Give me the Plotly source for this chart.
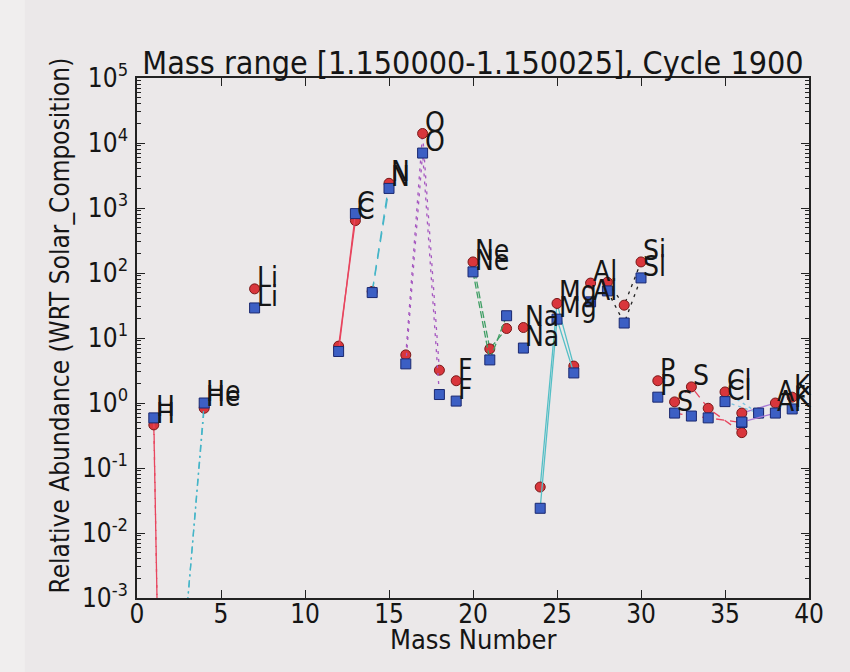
import math
import plotly.graph_objects as go

# ---------------- data ----------------
mass = [1, 2, 3, 4, 7, 12, 13, 14, 15, 16, 17, 18, 19, 20, 21, 22, 23,
        24, 25, 26, 27, 28, 29, 30, 31, 32, 33, 34, 36, 35, 37, 36, 38, 39]
element = ['H', 'H', 'He', 'He', 'Li', 'C', 'C', 'N', 'N', 'O', 'O', 'O', 'F',
           'Ne', 'Ne', 'Ne', 'Na', 'Mg', 'Mg', 'Mg', 'Al', 'Si', 'Si', 'Si', 'P',
           'S', 'S', 'S', 'S', 'Cl', 'Cl', 'Ar', 'Ar', 'K']
# series 1 (red circles)
abund_red = [0.46, 4.6e-15, 8e-4, 0.83, 57, 7.5, 640, 52, 2400, 5.5, 14000, 3.2, 2.2,
             148, 6.8, 14, 14.5, 0.051, 34, 3.7, 70, 72, 32, 148, 2.2,
             1.04, 1.77, 0.83, 0.35, 1.48, 0.70, 0.70, 1.0, 1.23]
# series 2 (blue squares)
abund_blue = [0.59, 1.6e-15, 8e-4, 1.0, 29, 6.2, 820, 50, 2000, 4.0, 7000, 1.35, 1.07,
              104, 4.6, 22, 7.0, 0.024, 19.5, 2.9, 36, 53, 17, 84, 1.23,
              0.70, 0.63, 0.59, 0.50, 1.05, 0.70, 0.51, 0.70, 0.81]

y_tick_vals = [1e-3, 1e-2, 1e-1, 1e0, 1e1, 1e2, 1e3, 1e4, 1e5]
y_tick_text = ['10<sup>-3</sup>', '10<sup>-2</sup>', '10<sup>-1</sup>', '10<sup>0</sup>',
               '10<sup>1</sup>', '10<sup>2</sup>', '10<sup>3</sup>', '10<sup>4</sup>',
               '10<sup>5</sup>']

title_text = "Mass range [1.150000-1.150025], Cycle 1900"
x_title = "Mass Number"
y_title = "Relative Abundance (WRT Solar_Composition)"

# ---------------- styles ----------------
elem_style = {
    'H': ('#e8455e', '10px,6px'),
    'He': ('#45b5c8', '7px,4px,2px,4px'),
    'C': ('#e8455e', 'solid'),
    'N': ('#45b5c8', '10px,7px'),
    'O': ('#a658c0', '3px,5px'),
    'Ne': ('#3f9e64', '7px,3px'),
    'Mg': ('#55bfc6', 'solid'),
    'Si': ('#222222', '3px,5px'),
    'S': ('#e8455e', '8px,6px'),
    'Cl': ('#7cc4e0', '3px,4px'),
    'Ar': ('#a878d6', 'solid'),
}
series = [
    (abund_red, dict(symbol='circle', size=10, color='#d9363c',
                     line=dict(color='#7a1818', width=1))),
    (abund_blue, dict(symbol='square', size=10, color='#3c5fc4',
                      line=dict(color='#1a2870', width=1))),
]

FONT = "DejaVu Sans Condensed, DejaVu Sans"
fig = go.Figure()
order = []
for e in element:
    if e not in order:
        order.append(e)

label_font = dict(family=FONT, size=28, color='#151515')
annotations = []
for vals, mk in series:
    for e in order:
        idx = [i for i, el in enumerate(element) if el == e]
        pts = sorted((mass[i], vals[i]) for i in idx)
        xs = [p[0] for p in pts]
        ys = [p[1] for p in pts]
        color, dash = elem_style.get(e, ('#444444', 'solid'))
        fig.add_trace(go.Scatter(
            x=xs, y=ys, mode='lines+markers' if len(xs) > 1 else 'markers',
            line=dict(color=color, dash=dash, width=1.3),
            marker=mk, showlegend=False, hoverinfo='skip'))
        # label at the most abundant isotope
        j = max(range(len(ys)), key=lambda k: ys[k])
        annotations.append(dict(
            x=xs[j], y=math.log10(ys[j]), xref='x', yref='y',
            text=e, showarrow=False, xanchor='left', yanchor='bottom',
            xshift=0, yshift=-7, font=label_font))

# axis titles as paper annotations (placed like the reference)
annotations.append(dict(text=x_title, x=0.5, xref='paper', y=-0.08, yref='paper',
                        xanchor='center', yanchor='middle', showarrow=False,
                        font=dict(family=FONT, size=27, color='#151515')))
annotations.append(dict(text=y_title, x=-0.114, xref='paper', y=0.525, yref='paper',
                        xanchor='center', yanchor='middle', showarrow=False, textangle=-90,
                        font=dict(family=FONT, size=26, color='#151515')))

bg = '#ebe8e9'
fig.update_layout(
    width=850, height=672,
    margin=dict(l=137, r=41, t=78, b=74),
    paper_bgcolor=bg, plot_bgcolor=bg,
    annotations=annotations,
    shapes=[dict(type='rect', xref='paper', yref='paper', x0=-0.21, x1=-0.167,
                 y0=-0.2, y1=1.2, fillcolor='#f0eeee', line=dict(width=0), layer='below')],
    title=dict(text=title_text, x=0.5, xref='paper', xanchor='center',
               y=1, yref='paper', yanchor='bottom', pad=dict(b=4),
               font=dict(family=FONT, size=32, color='#151515')),
    font=dict(family=FONT, size=24, color='#151515'),
)
fig.update_xaxes(
    range=[0, 40], dtick=5, tick0=0, showgrid=False, zeroline=False,
    showline=True, linecolor='#222222', linewidth=1.5, mirror='ticks',
    ticks='inside', ticklen=8, tickcolor='#222222', ticklabelstandoff=-8,
    tickfont=dict(size=26),
)
fig.update_yaxes(
    type='log', range=[-3, 5], tickvals=y_tick_vals, ticktext=y_tick_text,
    showgrid=False, zeroline=False,
    showline=True, linecolor='#222222', linewidth=1.5, mirror='ticks',
    ticks='inside', ticklen=8, tickcolor='#222222', ticklabelstandoff=2,
    minor=dict(ticks='inside', ticklen=4, tickcolor='#222222', dtick='D1', showgrid=False),
    tickfont=dict(size=26),
)

fig.write_html("out.html")
